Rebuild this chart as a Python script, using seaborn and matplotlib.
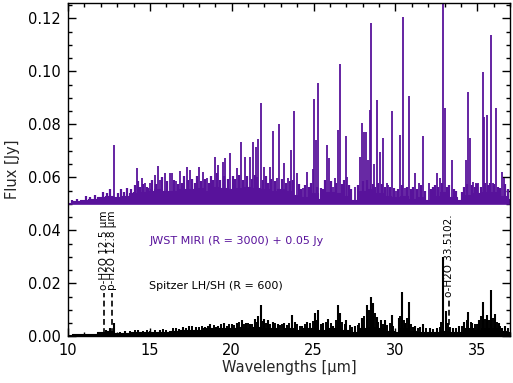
import numpy as np
import pandas as pd
import matplotlib
matplotlib.use("Agg")
import matplotlib.pyplot as plt
import seaborn as sns
from matplotlib.ticker import MultipleLocator

# JWST MIRI (R=3000) lines, flux already offset by +0.05 Jy
jwst_wl = [12.83, 14.2, 14.5, 14.7, 15.0, 15.3, 15.5, 15.62, 15.93, 16.2, 16.33, 16.6, 16.84,
           17.25, 17.45, 18.02, 18.27, 18.47, 18.98, 19.18, 19.45, 19.6, 19.9, 20.3, 20.55,
           20.81, 21.12, 21.32, 21.48, 21.63, 21.79, 21.97, 22.34, 22.5, 22.75, 22.89, 23.21,
           23.46, 23.62, 23.8, 23.97, 24.37, 24.58, 24.95, 25.03, 25.13, 25.29, 25.84, 25.96,
           26.17, 26.31, 26.51, 26.64, 26.96, 27.02, 27.53, 27.84, 27.94, 28.08, 28.2, 28.35,
           28.45, 28.52, 28.69, 28.86, 29.08, 29.26, 29.47, 29.57, 29.78, 30.04, 30.28, 30.45,
           30.59, 30.83, 31.2, 31.46, 31.67, 32.02, 32.52, 32.72, 32.93, 33.03, 33.44, 34.31,
           34.45, 34.56, 34.76, 34.92, 35.07, 35.33, 35.41, 35.57, 35.84, 35.98, 36.13, 36.53,
           36.63]
jwst_peak = [0.0722, 0.0634, 0.0596, 0.0577, 0.058, 0.0609, 0.0643, 0.0589, 0.0615, 0.0615,
             0.0615, 0.0586, 0.0625, 0.0638, 0.0626, 0.0638, 0.0621, 0.0596, 0.0675, 0.0646,
             0.0659, 0.0672, 0.069, 0.0634, 0.0734, 0.0678, 0.0678, 0.0734, 0.0716, 0.0743,
             0.0879, 0.0638, 0.0638, 0.0776, 0.0596, 0.0801, 0.0653, 0.0596, 0.0703, 0.0852,
             0.0618, 0.056, 0.0621, 0.063, 0.0894, 0.0741, 0.0955, 0.0722, 0.0672, 0.0565,
             0.0596, 0.0778, 0.1027, 0.0756, 0.06, 0.0565, 0.0678, 0.0804, 0.0772, 0.0772,
             0.0665, 0.0854, 0.1181, 0.065, 0.0892, 0.0697, 0.0747, 0.058, 0.057, 0.085,
             0.055, 0.076, 0.1206, 0.056, 0.0908, 0.0615, 0.058, 0.0756, 0.058, 0.0615,
             0.0597, 0.1258, 0.086, 0.0665, 0.0665, 0.0923, 0.0747, 0.0584, 0.058, 0.058,
             0.0998, 0.0829, 0.0835, 0.1137, 0.058, 0.086, 0.0621, 0.0597]

# weaker JWST lines
jwst_weak_wl = [10.24, 10.55, 10.86, 11.1, 11.35, 11.65, 11.9, 12.14, 12.38, 12.57, 13.05, 13.24,
                13.42, 13.6, 13.85, 14.03, 14.1, 14.3, 14.4, 14.6, 14.85, 14.9, 15.07, 15.15,
                15.4, 15.75, 16.05, 16.45, 16.7, 16.95, 17.1, 17.35, 17.6, 17.75, 17.9, 18.15,
                18.35, 18.6, 18.75, 18.88, 19.08, 19.3, 19.52, 19.75, 20.05, 20.2, 20.42, 20.68,
                20.95, 21.22, 21.4, 21.55, 21.88, 22.1, 22.2, 22.42, 22.62, 23.05, 23.3, 23.55,
                23.72, 24.1, 24.22, 24.5, 24.75, 24.85, 25.2, 25.45, 25.6, 25.72, 26.05, 26.4,
                26.75, 26.85, 27.15, 27.3, 27.7, 28.0, 28.28, 28.6, 28.78, 28.95, 29.18, 29.38,
                29.65, 29.9, 30.15, 30.38, 30.7, 30.95, 31.1, 31.3, 31.55, 31.8, 32.15, 32.3,
                32.42, 32.62, 32.82, 33.15, 33.3, 33.55, 33.7, 34.05, 34.2, 34.38, 34.65, 34.85,
                35.0, 35.2, 35.5, 35.65, 35.75, 36.05, 36.25, 36.4, 36.7, 36.85]
jwst_weak_peak = [0.0515, 0.052, 0.0515, 0.053, 0.0525, 0.0535, 0.0525, 0.0545, 0.054, 0.0555,
                  0.054, 0.0555, 0.0545, 0.056, 0.0555, 0.0545, 0.057, 0.0585, 0.0565, 0.0575,
                  0.0565, 0.056, 0.0555, 0.059, 0.0575, 0.06, 0.0585, 0.059, 0.0575, 0.058,
                  0.0605, 0.059, 0.0595, 0.058, 0.0605, 0.0585, 0.0595, 0.058, 0.0605, 0.059,
                  0.0615, 0.059, 0.0605, 0.0595, 0.0605, 0.0595, 0.061, 0.059, 0.0605, 0.0595,
                  0.061, 0.06, 0.059, 0.0605, 0.058, 0.0595, 0.0585, 0.0595, 0.058, 0.0585,
                  0.059, 0.0575, 0.0555, 0.057, 0.0565, 0.058, 0.0565, 0.056, 0.0555, 0.059,
                  0.0585, 0.058, 0.0575, 0.059, 0.057, 0.0555, 0.057, 0.0585, 0.059, 0.0575,
                  0.0565, 0.058, 0.0575, 0.0565, 0.0565, 0.056, 0.0555, 0.057, 0.0565, 0.0555,
                  0.0565, 0.0555, 0.057, 0.055, 0.0555, 0.0565, 0.057, 0.0565, 0.058, 0.0565,
                  0.057, 0.0555, 0.055, 0.0545, 0.0565, 0.0575, 0.057, 0.0565, 0.0575, 0.0565,
                  0.058, 0.057, 0.058, 0.0575, 0.0565, 0.056, 0.0575, 0.0555]

# weak-line "grass" level of the JWST spectrum, every 0.5 um
floor_wl = [10.0, 10.5, 11.0, 11.5, 12.0, 12.5, 13.0, 13.5, 14.0, 14.5, 15.0, 15.5, 16.0, 16.5,
            17.0, 17.5, 18.0, 18.5, 19.0, 19.5, 20.0, 20.5, 21.0, 21.5, 22.0, 22.5, 23.0, 23.5,
            24.0, 24.5, 25.0, 25.5, 26.0, 26.5, 27.0, 27.5, 28.0, 28.5, 29.0, 29.5, 30.0, 30.5,
            31.0, 31.5, 32.0, 32.5, 33.0, 33.5, 34.0, 34.5, 35.0, 35.5, 36.0, 36.5, 37.0]
jwst_floor = [0.0505, 0.051, 0.0515, 0.052, 0.0525, 0.053, 0.0525, 0.053, 0.054, 0.0545,
              0.055, 0.0555, 0.055, 0.055, 0.0555, 0.0555, 0.056, 0.055, 0.0565, 0.056,
              0.0555, 0.056, 0.0565, 0.056, 0.0555, 0.055, 0.0555, 0.055, 0.0535, 0.0525,
              0.054, 0.052, 0.0545, 0.054, 0.053, 0.0515, 0.055, 0.0555, 0.054, 0.053,
              0.0525, 0.053, 0.052, 0.0525, 0.0515, 0.053, 0.0545, 0.0525, 0.0515, 0.0535,
              0.054, 0.0545, 0.0545, 0.053, 0.052]

# Spitzer LH/SH (R=600) lines
spitzer_wl = [12.3, 12.55, 12.81, 13.5, 14.3, 15.0, 15.6, 16.2, 16.6, 17.0, 17.4, 17.8, 18.37,
              18.7, 19.18, 19.5, 19.99, 20.3, 20.61, 20.9, 21.12, 21.4, 21.6, 21.79, 22.0,
              22.24, 22.5, 22.85, 23.2, 23.67, 23.87, 24.3, 24.6, 25.09, 25.3, 25.6, 25.9,
              26.2, 26.51, 26.62, 27.0, 27.5, 27.94, 28.25, 28.51, 28.65, 28.86, 29.1, 29.37,
              29.77, 29.97, 30.2, 30.42, 30.6, 30.83, 31.2, 31.7, 32.1, 32.52, 32.93, 33.07,
              33.5, 33.9, 34.2, 34.45, 34.7, 35.1, 35.37, 35.57, 35.84, 36.08, 36.3, 36.53,
              36.7]
spitzer_peak = [0.0025, 0.003, 0.0049, 0.002, 0.0025, 0.002, 0.0025, 0.002, 0.003, 0.0035,
                0.004, 0.0035, 0.0034, 0.0045, 0.004, 0.005, 0.0046, 0.005, 0.006, 0.005,
                0.0046, 0.0065, 0.0075, 0.0118, 0.0065, 0.006, 0.0055, 0.0046, 0.005, 0.008,
                0.0054, 0.004, 0.0055, 0.0088, 0.0099, 0.005, 0.0065, 0.004, 0.0118, 0.0088,
                0.006, 0.004, 0.0068, 0.0118, 0.0149, 0.0124, 0.0074, 0.006, 0.006, 0.008,
                0.002, 0.0068, 0.0168, 0.005, 0.0131, 0.004, 0.0046, 0.003, 0.003, 0.030,
                0.0094, 0.003, 0.004, 0.0055, 0.0093, 0.005, 0.006, 0.0131, 0.0081, 0.0175,
                0.0086, 0.005, 0.003, 0.004]

# weaker Spitzer features
spitzer_weak_wl = [13.2, 13.8, 14.1, 14.6, 14.8, 15.3, 15.8, 16.0, 16.4, 16.8, 17.2, 17.6, 18.0,
                   18.2, 18.55, 18.9, 19.05, 19.35, 19.7, 19.85, 20.15, 20.45, 20.75, 21.0,
                   21.25, 21.5, 21.9, 22.1, 22.35, 22.65, 22.95, 23.05, 23.35, 23.5, 24.0,
                   24.15, 24.45, 24.8, 24.95, 25.2, 25.45, 25.75, 26.05, 26.35, 26.75, 26.9,
                   27.2, 27.35, 27.7, 27.8, 28.1, 28.4, 28.75, 28.95, 29.25, 29.5, 29.65, 29.87,
                   30.3, 30.5, 30.7, 30.95, 31.1, 31.35, 31.5, 31.85, 32.3, 32.7, 32.8, 33.2,
                   33.35, 33.7, 34.05, 34.35, 34.6, 34.85, 35.0, 35.25, 35.45, 35.7, 35.95,
                   36.2, 36.4, 36.85]
spitzer_weak_peak = [0.0018, 0.002, 0.0022, 0.002, 0.0025, 0.0022, 0.0028, 0.0022, 0.003, 0.0028,
                     0.0032, 0.0038, 0.0035, 0.004, 0.0038, 0.0042, 0.0035, 0.0045, 0.004,
                     0.0048, 0.0042, 0.0055, 0.0045, 0.0052, 0.0048, 0.0055, 0.0058, 0.005,
                     0.0048, 0.005, 0.0042, 0.0045, 0.0042, 0.0052, 0.0045, 0.004, 0.0048,
                     0.0052, 0.0058, 0.0062, 0.0045, 0.0055, 0.005, 0.0062, 0.0055, 0.0048,
                     0.0042, 0.0035, 0.0042, 0.005, 0.0075, 0.0098, 0.0088, 0.0055, 0.0048,
                     0.0042, 0.0052, 0.004, 0.0075, 0.0062, 0.007, 0.0045, 0.0035, 0.003,
                     0.0035, 0.003, 0.0028, 0.0035, 0.0055, 0.005, 0.0035, 0.003, 0.0038,
                     0.0062, 0.0055, 0.0045, 0.0048, 0.0075, 0.0065, 0.0062, 0.007, 0.0055,
                     0.0038, 0.003]
spitzer_floor = [0.0005, 0.0007, 0.0008, 0.001, 0.0015, 0.002, 0.0012, 0.0012, 0.0015, 0.0015,
                 0.0015, 0.0015, 0.0018, 0.002, 0.0022, 0.0025, 0.0025, 0.003, 0.003, 0.003,
                 0.003, 0.0035, 0.003, 0.0035, 0.003, 0.003, 0.0025, 0.003, 0.0025, 0.003,
                 0.003, 0.0025, 0.003, 0.003, 0.0025, 0.0015, 0.003, 0.0035, 0.003, 0.002,
                 0.0015, 0.003, 0.002, 0.0015, 0.0015, 0.0015, 0.002, 0.0015, 0.0015, 0.003,
                 0.0025, 0.003, 0.003, 0.002, 0.0015]

# identified water lines
ident_wl = [12.2, 12.66, 33.3]
ident_label = ["o-H2O 12.5 \u00b5m", "p-H2O 12.8 \u00b5m", "o-H2O 33.5102."]
ident_top = [0.0163, 0.0163, 0.0137]

purple = "#58129b"

sns.set_theme(style="ticks")
plt.rcParams['font.family'] = ['DejaVu Sans']
plt.rcParams['xtick.direction'] = 'in'
plt.rcParams['ytick.direction'] = 'in'

fig = plt.figure(figsize=(5.13, 3.83), dpi=100)
ax = fig.add_axes([0.1326, 0.1219, 0.8616, 0.8703])

df_floor = pd.DataFrame({'wl': floor_wl, 'jwst': jwst_floor, 'spitzer': spitzer_floor})

# JWST spectrum
ax.fill_between(df_floor['wl'], 0.05, df_floor['jwst'], step='mid', color=purple, lw=0)
sns.lineplot(data=df_floor, x='wl', y='jwst', drawstyle='steps-mid', color=purple, lw=0.8, ax=ax)
ax.vlines(jwst_weak_wl, 0.05, jwst_weak_peak, color=purple, lw=1.6)
ax.vlines(jwst_wl, 0.05, jwst_peak, color=purple, lw=1.3)
ax.axhline(0.05, color=purple, lw=1.2)

# Spitzer spectrum
ax.fill_between(df_floor['wl'], 0, df_floor['spitzer'], step='mid', color='black', lw=0)
sns.lineplot(data=df_floor, x='wl', y='spitzer', drawstyle='steps-mid', color='black', lw=0.8, ax=ax)
ax.vlines(spitzer_weak_wl, 0, spitzer_weak_peak, color='black', lw=1.4)
ax.vlines(spitzer_wl, 0, spitzer_peak, color='black', lw=1.5)

for w, lab, top in zip(ident_wl, ident_label, ident_top):
    ax.vlines(w, 0.001, top, color='black', lw=1.2, linestyles=(0, (3.5, 2)))
    ax.text(w, top + 0.001, lab, rotation=90, ha='center', va='bottom', fontsize=7.5, color='black')

ax.text(14.95, 0.0361, "JWST MIRI (R = 3000) + 0.05 Jy", color=purple, fontsize=8, va='center')
ax.text(14.95, 0.0190, "Spitzer LH/SH (R = 600)", color='black', fontsize=8, va='center')

ax.set_xlim(10, 37)
ax.set_ylim(0, 0.1258)
ax.xaxis.set_major_locator(MultipleLocator(5))
ax.xaxis.set_minor_locator(MultipleLocator(1))
ax.yaxis.set_major_locator(MultipleLocator(0.02))
ax.yaxis.set_minor_locator(MultipleLocator(0.005))
ax.yaxis.set_major_formatter(matplotlib.ticker.FormatStrFormatter('%.2f'))
ax.tick_params(which='both', top=True, right=True, width=1.0, colors='black', labelsize=10.5)
ax.tick_params(which='major', length=5.5, pad=5)
ax.tick_params(which='minor', length=2.8)
for s in ax.spines.values():
    s.set_color('black')
    s.set_linewidth(1.0)

ax.set_xlabel("Wavelengths [\u00b5m]", fontsize=10.5, labelpad=1)
ax.set_ylabel("Flux [Jy]", fontsize=10.5, labelpad=6)

fig.savefig("out.png", dpi=100)
